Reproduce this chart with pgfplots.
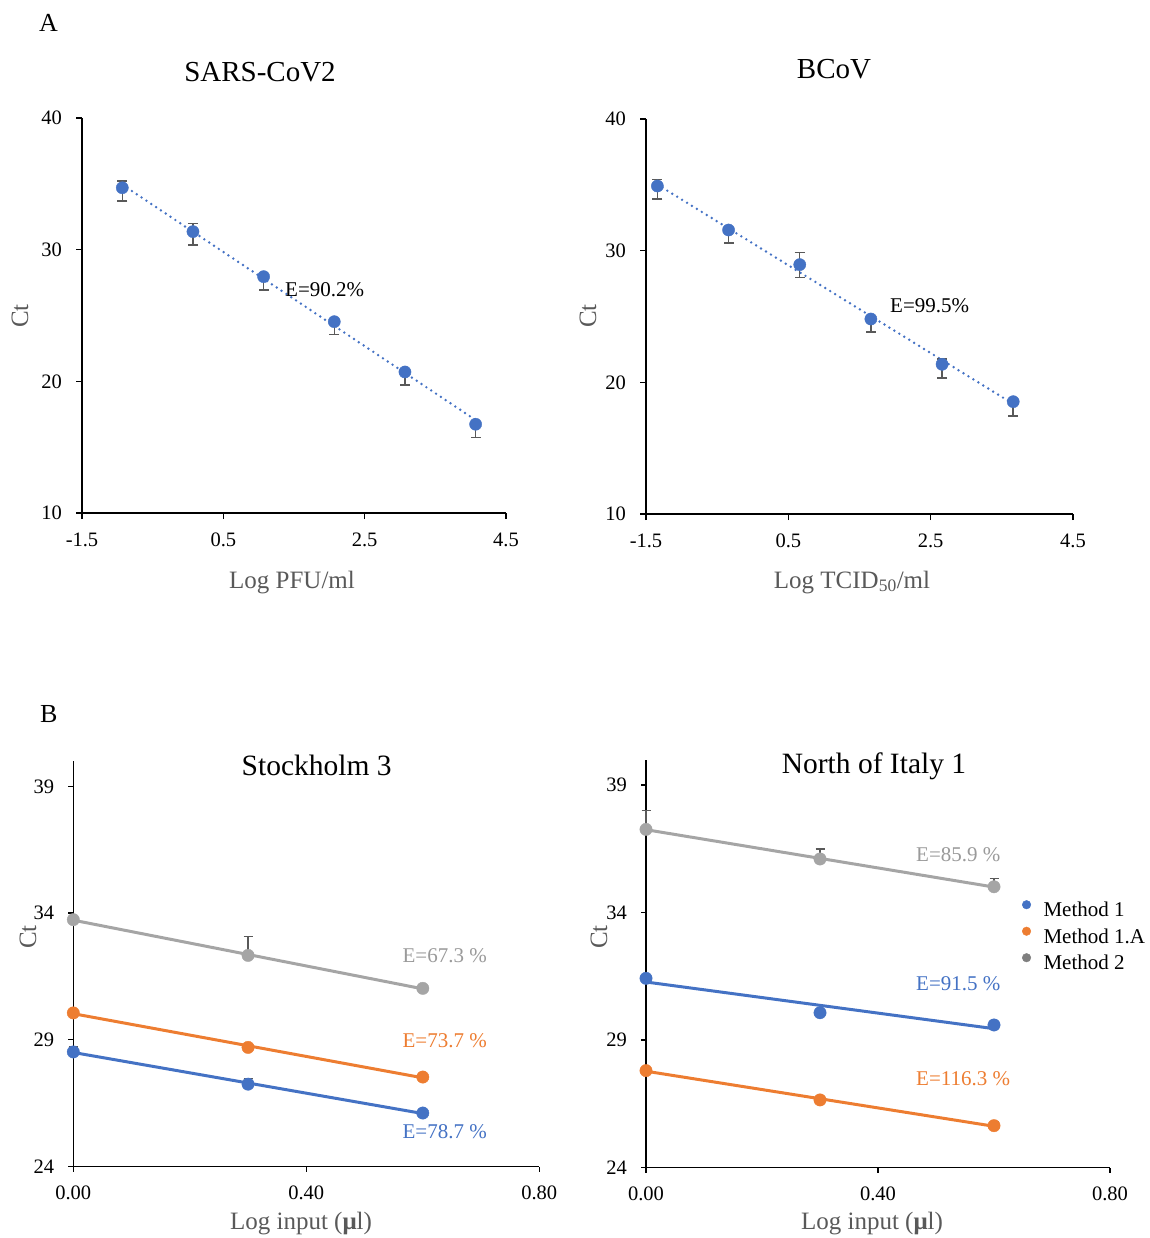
\documentclass[border=0pt]{standalone}
\usepackage{fontspec}
\setmainfont{Liberation Serif}
\usepackage{pgfplots}
\pgfplotsset{compat=1.18}
\definecolor{mblue}{HTML}{4472C4}
\definecolor{morange}{HTML}{ED7D31}
\definecolor{mgray}{HTML}{A5A5A5}
\definecolor{mdgray}{HTML}{7F7F7F}
\definecolor{errc}{HTML}{595959}
\definecolor{labc}{HTML}{595959}
\definecolor{elabgray}{HTML}{9A9A9A}
\newcommand\fs[1]{\fontsize{#1}{#1}\selectfont}
\pgfplotsset{
  mybase/.style={
    scale only axis, clip=false,
    axis lines=left,
    axis line style={-, black, line width=1.5pt},
    tick style={black, line width=1.5pt},
    tick align=outside,
    major tick length=6pt,
    ticklabel style={font=\fs{20.5}, inner sep=0pt, text=black},
    xticklabel style={anchor=north, yshift=-14pt},
    yticklabel style={anchor=east, xshift=-14pt},
  },
  topax/.style={mybase, width=424pt, height=395pt, xmin=-1.5, xmax=4.5, ymin=10, ymax=40,
    xtick={-1.5,0.5,2.5,4.5}, xticklabels={-1.5,0.5,2.5,4.5},
    ytick={10,20,30,40}, yticklabels={10,20,30,40}},
  botax/.style={mybase, axis line style={-, black, line width=1.2pt}, tick style={black, line width=1.2pt},
    major tick length=5pt,
    xmin=0, xmax=0.8, ymin=24, ymax=40,
    xtick={0,0.4,0.8}, xticklabels={0.00,0.40,0.80},
    ytick={24,29,34,39}, yticklabels={24,29,34,39}},
  errtop/.style={forget plot, draw=none, mark=none,
    error bars/.cd, y dir=both, y explicit,
    error bar style={draw=errc, line width=1.5pt},
    error mark options={draw=errc, line width=1.5pt, mark size=5pt, rotate=90}},
  errbot/.style={forget plot, draw=none, mark=none,
    error bars/.cd, y dir=plus, y explicit,
    error bar style={draw=errc, line width=1.3pt},
    error mark options={draw=errc, line width=1.3pt, mark size=4.5pt, rotate=90}},
  ptop/.style={forget plot, only marks, mark=*, mark size=6.1pt, mark options={fill=mblue, draw=mblue}},
  dotline/.style={forget plot, mblue, line width=2.7pt, line cap=round, dash pattern=on 0pt off 5.8pt},
  pbot/.style={forget plot, only marks, mark=*, mark size=6.2pt, mark options={fill=#1, draw=#1}},
  fitline/.style={forget plot, #1, line width=3pt, mark=none},
}
\begin{document}
\begin{tikzpicture}
\useasboundingbox (0,0) rectangle (1149pt,-1238pt);

% ---------------- A: SARS-CoV2
\begin{axis}[topax, at={(82pt,-513pt)}, anchor=south west]
\addplot[dotline] coordinates {(-0.93,34.94) (4.07,17.06)};
\addplot[errtop] coordinates {
 (-0.93,34.70) += (0,0.50) -= (0,1.00)
 (0.07,31.37)  += (0,0.60) -= (0,1.00)
 (1.07,27.95)  += (0,0)    -= (0,1.00)
 (2.07,24.53)  += (0,0)    -= (0,0.96)
 (3.07,20.71)  += (0,0)    -= (0,0.98)
 (4.07,16.74)  += (0,0)    -= (0,1.00)
};
\addplot[ptop] coordinates {(-0.93,34.70) (0.07,31.37) (1.07,27.95) (2.07,24.53) (3.07,20.71) (4.07,16.74)};
\node[anchor=base west, inner sep=0pt, font=\fs{21}] at (axis cs:1.373,26.48) {E=90.2\%};
\end{axis}

% ---------------- A: BCoV
\begin{axis}[topax, width=427pt, at={(646pt,-514pt)}, anchor=south west]
\addplot[dotline] coordinates {(-1.34,35.02) (3.66,18.36)};
\addplot[errtop] coordinates {
 (-1.34,34.91) += (0,0.50) -= (0,0.98)
 (-0.34,31.57) += (0,0)    -= (0,1.00)
 (0.66,28.94)  += (0,0.93) -= (0,0.99)
 (1.66,24.81)  += (0,0)    -= (0,0.98)
 (2.66,21.37)  += (0,0.42) -= (0,1.04)
 (3.66,18.53)  += (0,0)    -= (0,1.08)
};
\addplot[ptop] coordinates {(-1.34,34.91) (-0.34,31.57) (0.66,28.94) (1.66,24.81) (2.66,21.37) (3.66,18.53)};
\node[anchor=base west, inner sep=0pt, font=\fs{21}] at (axis cs:1.928,25.32) {E=99.5\%};
\end{axis}

% ---------------- B: Stockholm 3
\begin{axis}[botax, width=466pt, height=405.5pt, at={(73.3pt,-1166.5pt)}, anchor=south west]
\addplot[fitline=mgray] coordinates {(0,33.72) (0.6,31.01)};
\addplot[fitline=morange] coordinates {(0,30.03) (0.6,27.50)};
\addplot[fitline=mblue] coordinates {(0,28.50) (0.6,26.09)};
\addplot[errbot] coordinates {(0.3,32.33) += (0,0.75) -= (0,0)};
\addplot[errbot] coordinates {(0,28.52) += (0,0.20) -= (0,0) (0.3,27.25) += (0,0.22) -= (0,0)};
\addplot[pbot=mgray] coordinates {(0,33.74) (0.3,32.33) (0.6,31.03)};
\addplot[pbot=morange] coordinates {(0,30.06) (0.3,28.70) (0.6,27.53)};
\addplot[pbot=mblue] coordinates {(0,28.52) (0.3,27.25) (0.6,26.11)};
\node[anchor=base west, inner sep=0pt, font=\fs{21}, text=elabgray] at (axis cs:0.565,32.06) {E=67.3 \%};
\node[anchor=base west, inner sep=0pt, font=\fs{21}, text=morange] at (axis cs:0.565,28.70) {E=73.7 \%};
\node[anchor=base west, inner sep=0pt, font=\fs{21}, text=mblue] at (axis cs:0.565,25.11) {E=78.7 \%};
\end{axis}

% ---------------- B: North of Italy 1
\begin{axis}[botax, width=464pt, height=408pt, at={(646pt,-1167.5pt)}, anchor=south west,
  legend image code/.code={\fill[#1] (0pt,7pt) circle (4.3pt);},
  legend cell align=left,
  legend style={at={(0.81,0.6556)}, anchor=north west, draw=none, fill=none, inner sep=0pt,
    font=\fs{21}, row sep=5pt, column sep=12.5pt,
    nodes={inner sep=0pt, text height=15pt, text depth=5pt}}]
\addlegendimage{mblue}
\addlegendentry{Method 1}
\addlegendimage{morange}
\addlegendentry{Method 1.A}
\addlegendimage{mdgray}
\addlegendentry{Method 2}
\addplot[fitline=mgray] coordinates {(0,37.248) (0.6,34.998)};
\addplot[fitline=mblue] coordinates {(0,31.275) (0.6,29.445)};
\addplot[fitline=morange] coordinates {(0,27.777) (0.6,25.617)};
\addplot[errbot] coordinates {(0,37.26) += (0,0.73) -= (0,0) (0.3,36.10) += (0,0.39) -= (0,0) (0.6,35.01) += (0,0.32) -= (0,0)};
\addplot[errbot] coordinates {(0.6,25.64) += (0,0.15) -= (0,0)};
\addplot[pbot=mgray] coordinates {(0,37.26) (0.3,36.10) (0.6,35.01)};
\addplot[pbot=mblue] coordinates {(0,31.42) (0.3,30.07) (0.6,29.59)};
\addplot[pbot=morange] coordinates {(0,27.80) (0.3,26.65) (0.6,25.64)};
\node[anchor=base west, inner sep=0pt, font=\fs{21}, text=elabgray] at (axis cs:0.4655,35.99) {E=85.9 \%};
\node[anchor=base west, inner sep=0pt, font=\fs{21}, text=mblue] at (axis cs:0.4655,30.96) {E=91.5 \%};
\node[anchor=base west, inner sep=0pt, font=\fs{21}, text=morange] at (axis cs:0.4655,27.20) {E=116.3 \%};
\end{axis}

% ---------------- titles and labels
\node[anchor=base west, inner sep=0pt, font=\fs{26}] at (39pt,-32pt) {A};
\node[anchor=base west, inner sep=0pt, font=\fs{26}] at (40pt,-722pt) {B};
\node[anchor=base, inner sep=0pt, font=\fs{29}] at (260pt,-82pt) {SARS-CoV2};
\node[anchor=base, inner sep=0pt, font=\fs{29}] at (834pt,-79pt) {BCoV};
\node[anchor=base, inner sep=0pt, font=\fs{29.5}] at (316.7pt,-775pt) {Stockholm 3};
\node[anchor=base, inner sep=0pt, font=\fs{29.5}] at (874pt,-773pt) {North of Italy 1};
\node[anchor=base, inner sep=0pt, font=\fs{25}, text=labc] at (292pt,-588pt) {Log PFU/ml};
\node[anchor=base, inner sep=0pt, font=\fs{25}, text=labc] at (852pt,-588pt) {Log TCID\textsubscript{50}/ml};
\node[anchor=base, inner sep=0pt, font=\fs{25}, text=labc] at (301pt,-1229pt) {Log input (\textbf{μ}l)};
\node[anchor=base, inner sep=0pt, font=\fs{25}, text=labc] at (872pt,-1229pt) {Log input (\textbf{μ}l)};
\node[rotate=90, inner sep=0pt, font=\fs{25}, text=labc] at (20pt,-316pt) {Ct};
\node[rotate=90, inner sep=0pt, font=\fs{25}, text=labc] at (588pt,-316pt) {Ct};
\node[rotate=90, inner sep=0pt, font=\fs{25}, text=labc] at (28pt,-937pt) {Ct};
\node[rotate=90, inner sep=0pt, font=\fs{25}, text=labc] at (599pt,-937pt) {Ct};
\end{tikzpicture}
\end{document}
